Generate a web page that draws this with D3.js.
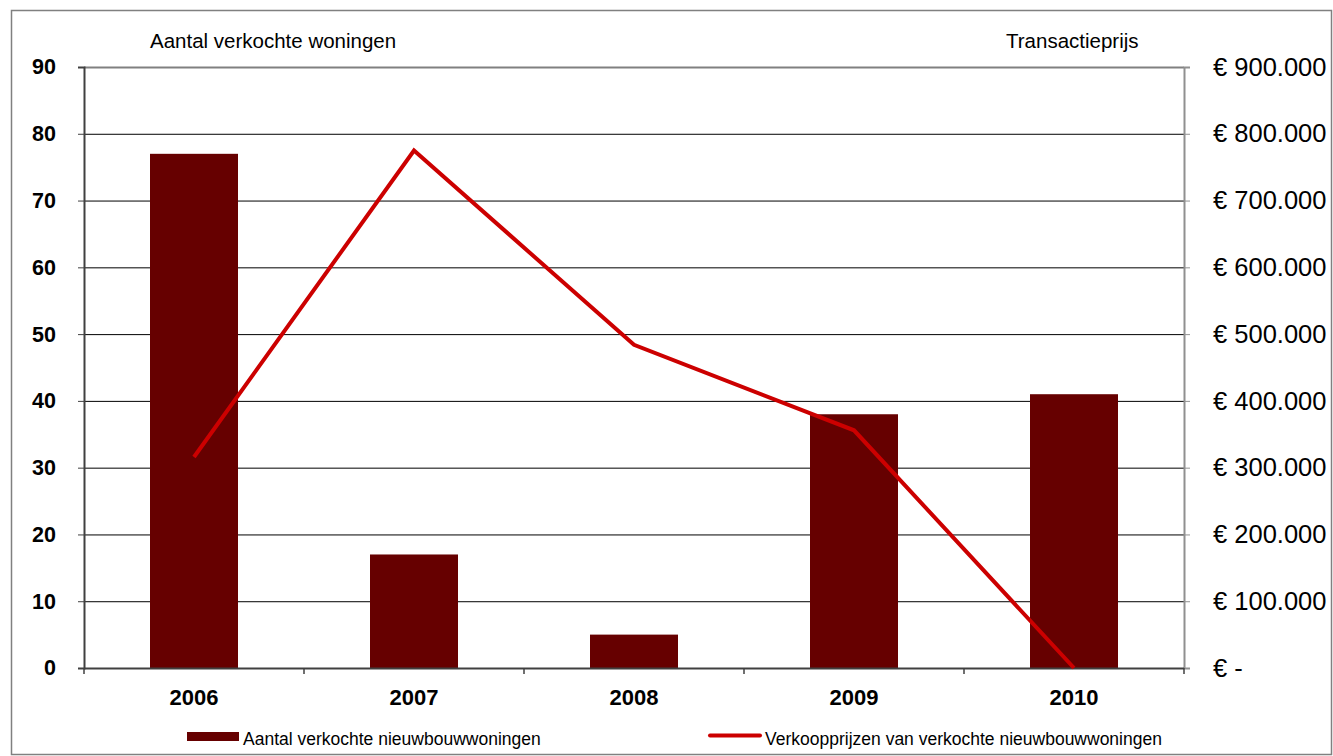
<!DOCTYPE html>
<html><head><meta charset="utf-8">
<script src="https://cdn.jsdelivr.net/npm/d3@7"></script>
<style>body{margin:0;background:#fff;font-family:"Liberation Sans",Arial,sans-serif}</style>
</head><body><svg id="c" width="1333" height="756"></svg>
<script>
const years = ["2006","2007","2008","2009","2010"];
const aantal = [77, 17, 5, 38, 41];
const prijs = [316000, 775000, 484000, 356000, 0];
const leftTicks = [0,10,20,30,40,50,60,70,80,90];
const rightTicks = [0,100000,200000,300000,400000,500000,600000,700000,800000,900000];

const svg = d3.select("#c");
const L = 84, R = 1184, T = 67, B = 668;
svg.append("rect").attr("x",11.5).attr("y",10.5).attr("width",1320).attr("height",744)
  .attr("fill","#fff").attr("stroke","#808080").attr("stroke-width",1.5);

const x = d3.scaleBand().domain(years).range([L,R]);
const yL = d3.scaleLinear().domain([0,90]).range([B,T]);
const yR = d3.scaleLinear().domain([0,900000]).range([B,T]);

// gridlines
svg.append("g").selectAll("line").data(leftTicks.slice(1)).join("line")
  .attr("x1",L).attr("x2",R).attr("y1",d=>yL(d)+0.5).attr("y2",d=>yL(d)+0.5)
  .attr("stroke",d=>d===90?"#808080":"#000").attr("stroke-width",d=>d===90?2:1);

// bars
const bw = x.bandwidth()*0.4;
svg.append("g").selectAll("rect").data(years).join("rect")
  .attr("x",(d)=>x(d)+x.bandwidth()/2-bw/2).attr("width",bw)
  .attr("y",(d,i)=>yL(aantal[i])).attr("height",(d,i)=>B-yL(aantal[i]))
  .attr("fill","#660000");

// left axis
const gl = svg.append("g").attr("transform",`translate(${L},0)`)
  .call(d3.axisLeft(yL).tickValues(leftTicks).tickSize(6).tickPadding(22).tickFormat(d3.format("d")));
gl.select(".domain").attr("stroke","#404040").attr("stroke-width",2);
gl.selectAll(".tick line").attr("stroke","#404040");
gl.selectAll("text").attr("font-family","Liberation Sans, Arial").attr("font-size",21.5).attr("font-weight","bold").attr("fill","#000");

// right axis
const gr = svg.append("g").attr("transform",`translate(${R},0)`)
  .call(d3.axisRight(yR).tickValues(rightTicks).tickSize(6).tickPadding(23)
    .tickFormat(d=> d===0 ? "€ -" : "€ " + d3.format(",")(d).replace(/,/g,".")));
gr.select(".domain").attr("stroke","#909090").attr("stroke-width",2);
gr.selectAll(".tick line").attr("stroke","#909090");
gr.selectAll("text").attr("font-family","Liberation Sans, Arial").attr("font-size",25.5).attr("fill","#000");

// x axis
svg.append("line").attr("x1",L).attr("x2",R).attr("y1",B+0.5).attr("y2",B+0.5).attr("stroke","#404040").attr("stroke-width",2);
const bounds = [L].concat(years.map(d=>x(d)+x.bandwidth()));
svg.append("g").selectAll("line").data(bounds).join("line")
  .attr("x1",d=>d).attr("x2",d=>d).attr("y1",B).attr("y2",B+6).attr("stroke","#404040").attr("stroke-width",1.5);
svg.append("g").selectAll("text").data(years).join("text")
  .attr("x",d=>x(d)+x.bandwidth()/2).attr("y",705).attr("text-anchor","middle")
  .attr("font-size",22).attr("font-weight","bold").text(d=>d);

// line
const line = d3.line().x((d,i)=>x(years[i])+x.bandwidth()/2).y(d=>yR(d));
svg.append("path").datum(prijs).attr("d",line).attr("fill","none")
  .attr("stroke","#CC0000").attr("stroke-width",4).attr("stroke-linejoin","miter");

// axis titles
svg.append("text").attr("x",150).attr("y",48).attr("font-size",20.5).text("Aantal verkochte woningen");
svg.append("text").attr("x",1006).attr("y",48).attr("font-size",20.5).text("Transactieprijs");

// legend
svg.append("rect").attr("x",187).attr("y",732).attr("width",52).attr("height",9).attr("fill","#660000");
svg.append("text").attr("x",243).attr("y",745).attr("font-size",17.5).text("Aantal verkochte nieuwbouwwoningen");
svg.append("line").attr("x1",710).attr("x2",760).attr("y1",735.5).attr("y2",735.5).attr("stroke","#CC0000").attr("stroke-width",4).attr("stroke-linecap","round");
svg.append("text").attr("x",765).attr("y",745).attr("font-size",17.5).text("Verkoopprijzen van verkochte nieuwbouwwoningen");
</script></body></html>
